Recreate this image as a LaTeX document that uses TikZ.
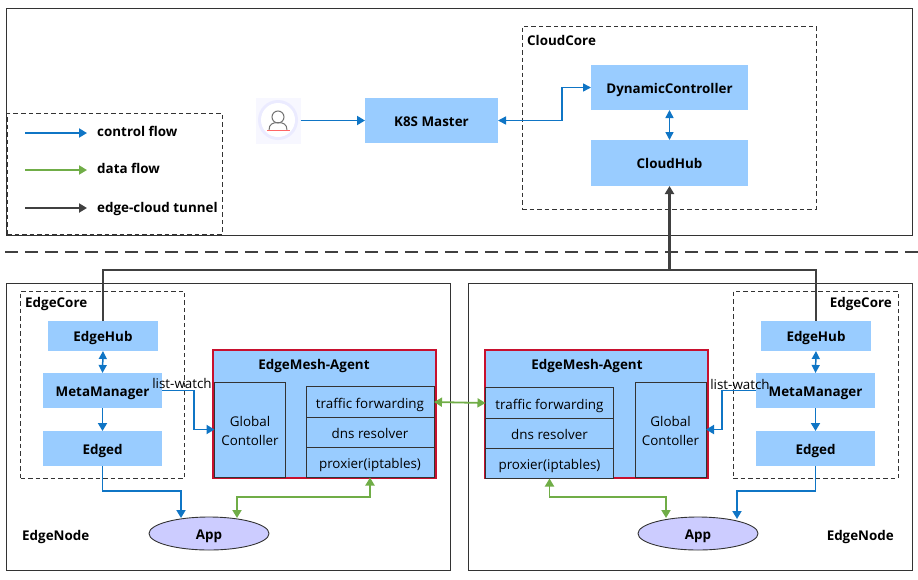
\documentclass[tikz,border=0pt]{standalone}
\usepackage{fontspec}
\setmainfont{Open Sans}
\usepackage{tikz}
\usetikzlibrary{arrows.meta,shapes.geometric}
\definecolor{meshblue}{HTML}{99CCFF}
\definecolor{ctrlblue}{HTML}{0F75C5}
\definecolor{datagreen}{HTML}{70AD47}
\definecolor{tunnelgray}{HTML}{404040}
\definecolor{applilac}{HTML}{CCCCFF}
\definecolor{agentred}{HTML}{C8102E}
\definecolor{framegray}{HTML}{333333}

\begin{document}
\begin{tikzpicture}[
  x=1pt, y=-1pt,
  frame/.style={draw=framegray, line width=0.9pt, inner sep=0pt, outer sep=0pt},
  dashbox/.style={draw=framegray, line width=0.8pt, dash pattern=on 4.5pt off 3pt, inner sep=0pt, outer sep=0pt},
  box/.style={fill=meshblue, inner sep=0pt, outer sep=0pt, align=center, text height=14.5pt, text depth=3pt, font=\fontsize{13.4}{15}\selectfont\bfseries},
  part/.style={draw=framegray, fill=meshblue, line width=0.9pt, inner sep=0pt, outer sep=0pt, align=center, font=\fontsize{13.4}{19}\selectfont},
  partline/.style={part, text height=15pt, text depth=3pt},
  agent/.style={draw=agentred, fill=meshblue, line width=2pt, inner sep=0pt, outer sep=0pt},
  app/.style={ellipse, draw=framegray, fill=applilac, line width=0.9pt, inner sep=0pt, outer sep=0pt, minimum width=120pt, minimum height=33pt, text height=14.5pt, text depth=3pt, font=\fontsize{13.4}{15}\selectfont\bfseries},
  lbl/.style={inner sep=0pt, text height=12.5pt, text depth=3pt, font=\fontsize{13.4}{15}\selectfont\bfseries},
  plain/.style={inner sep=0pt, font=\fontsize{13.4}{15}\selectfont},
  ctrl/.style={-{Triangle[length=8pt,width=9pt]}, line width=1.8pt, draw=ctrlblue, color=ctrlblue},
  ctrlboth/.style={{Triangle[length=8pt,width=8pt]}-{Triangle[length=8pt,width=8pt]}, line width=1.5pt, draw=ctrlblue, color=ctrlblue},
  data/.style={-{Triangle[length=8pt,width=9pt]}, line width=1.8pt, draw=datagreen, color=datagreen},
  databoth/.style={{Triangle[length=8pt,width=9pt]}-{Triangle[length=8pt,width=9pt]}, line width=1.8pt, draw=datagreen, color=datagreen},
  tunnel/.style={-{Triangle[length=8pt,width=9pt]}, line width=2.2pt, draw=tunnelgray, color=tunnelgray},
  tunnelline/.style={line width=2.2pt, draw=tunnelgray}
]
\useasboundingbox (0,0) rectangle (918,579);

% frames
\node[frame, minimum width=906pt, minimum height=227pt] (cloudframe) at (459,121.5) {};
\node[frame, minimum width=444pt, minimum height=287pt] (nodeleft) at (228,426.5) {};
\node[frame, minimum width=444pt, minimum height=287pt] (noderight) at (690,426.5) {};
\coordinate (splitl) at (5,252);
\coordinate (splitr) at (918,252);
\draw[draw=tunnelgray, line width=2pt, dash pattern=on 13pt off 7pt] (splitl) -- (splitr);

% legend
\node[dashbox, minimum width=215pt, minimum height=121pt] (legend) at (114.5,173.5) {};
\coordinate (ctrla) at (25,133);
\coordinate (ctrlb) at (87,133);
\coordinate (dataa) at (25,170);
\coordinate (datab) at (87,170);
\coordinate (tunna) at (25,208);
\coordinate (tunnb) at (87,208);
\draw[ctrl] (ctrla) -- (ctrlb);
\draw[data] (dataa) -- (datab);
\draw[tunnel] (tunna) -- (tunnb);
\node[lbl, anchor=west] (ctrltext) at (97,132) {control flow};
\node[lbl, anchor=west] (datatext) at (97,169) {data flow};
\node[lbl, anchor=west] (tunntext) at (97,208) {edge-cloud tunnel};

% user icon
\node[fill=blue!3, inner sep=0pt, outer sep=0pt, minimum width=45pt, minimum height=46pt] (user) at (278,120.5) {};
\fill[blue!8] (278,120) circle (20);
\fill[white] (278,120) circle (17);
\draw[gray!90!black, line width=1pt] (278,117) circle (6);
\draw[gray!90!black, line width=1pt] (269,130) .. controls (269,124) and (273,122.5) .. (278,122.5) .. controls (283,122.5) and (287,124) .. (287,130);
\draw[red!60!white, line width=1pt] (267,130.5) -- (290,130.5);

% cloud side
\node[box, minimum width=133pt, minimum height=45pt] (master) at (431.5,120.5) {K8S Master};
\node[dashbox, minimum width=294pt, minimum height=183pt] (cloudcore) at (669,117.5) {};
\node[lbl, anchor=west] (cloudcoretext) at (527,41) {CloudCore};
\node[box, minimum width=157pt, minimum height=45pt] (dynamic) at (669.5,87.5) {DynamicController};
\node[box, minimum width=157pt, minimum height=46pt] (cloudhub) at (669.5,163) {CloudHub};
\draw[ctrl] (user.east) -- (master.west);
\draw[ctrlboth] (master.east) -- (562,120.5) |- (dynamic.west);
\draw[ctrlboth] (dynamic.south) -- (cloudhub.north);

% left edge node
\node[dashbox, minimum width=164pt, minimum height=187pt] (corel) at (102.5,384.5) {};
\node[lbl, anchor=west] (coreltext) at (25,303) {EdgeCore};
\node[box, minimum width=110pt, minimum height=30pt] (hubl) at (103,336) {EdgeHub};
\node[box, minimum width=119pt, minimum height=35pt] (metal) at (102.5,390.5) {MetaManager};
\node[box, minimum width=119pt, minimum height=35pt] (edgedl) at (102.5,448.5) {Edged};
\node[lbl, anchor=west] (nodeltext) at (22,536) {EdgeNode};
\node[agent, minimum width=223pt, minimum height=128pt] (agentl) at (324.5,414) {};
\node[lbl] (agentltext) at (314,365) {EdgeMesh-Agent};
\node[part, minimum width=71pt, minimum height=95pt, text height=32pt] (globall) at (250,429.5) {Global\\Contoller};
\node[partline, minimum width=128pt, minimum height=31pt] (trafl) at (370,402) {traffic forwarding};
\node[partline, minimum width=128pt, minimum height=30pt] (dnsl) at (370,432.5) {dns resolver};
\node[partline, minimum width=128pt, minimum height=30pt] (proxl) at (370,462.5) {proxier(iptables)};
\node[app] (appl) at (209,533.5) {App};
\coordinate (appltop) at (181,518);
\coordinate (applgreen) at (237,518);

% right edge node
\node[dashbox, minimum width=165pt, minimum height=187pt] (corer) at (815.5,384.5) {};
\node[lbl, anchor=east] (corertext) at (892,303) {EdgeCore};
\node[box, minimum width=110pt, minimum height=30pt] (hubr) at (816,336) {EdgeHub};
\node[box, minimum width=119pt, minimum height=35pt] (metar) at (815.5,390.5) {MetaManager};
\node[box, minimum width=119pt, minimum height=35pt] (edgedr) at (815.5,448.5) {Edged};
\node[lbl, anchor=east] (nodertext) at (894,536) {EdgeNode};
\node[agent, minimum width=223pt, minimum height=128pt] (agentr) at (596.5,414) {};
\node[lbl] (agentrtext) at (587,365) {EdgeMesh-Agent};
\node[part, minimum width=71pt, minimum height=95pt, text height=32pt] (globalr) at (670.5,429.5) {Global\\Contoller};
\node[partline, minimum width=128pt, minimum height=31pt] (trafr) at (549.5,403) {traffic forwarding};
\node[partline, minimum width=128pt, minimum height=30pt] (dnsr) at (549.5,433.5) {dns resolver};
\node[partline, minimum width=128pt, minimum height=30pt] (proxr) at (549.5,463.5) {proxier(iptables)};
\node[app] (appr) at (698,533.5) {App};
\coordinate (apprtop) at (737,519);
\coordinate (apprgreen) at (666,518);

% connectors inside the nodes
\draw[ctrlboth] (hubl.south) -- (metal.north);
\draw[ctrl] (metal.south) -- (edgedl.north);
\draw[ctrlboth] (hubr.south) -- (metar.north);
\draw[ctrl] (metar.south) -- (edgedr.north);
\draw[ctrl] (metal.east) -- (194,390.5) |- (globall.west);
\draw[ctrl] (metar.west) -- (722,390.5) |- (globalr.east);
\draw[ctrl] (edgedl.south) -- (102.5,491) -| (appltop);
\draw[ctrl] (edgedr.south) -- (815.5,491) -| (apprtop);
\draw[databoth] (applgreen) |- (370,497) -- (proxl.south);
\draw[databoth] (proxr.south) -- (549.5,497) -| (apprgreen);
\draw[databoth] (trafl.east) -- (trafr.west);

% tunnel
\draw[tunnelline] (hubl.north) -- (103,270) -| (hubr.north);
\coordinate (tunnelfork) at (669.5,270);
\draw[tunnel] (tunnelfork) -- (cloudhub.south);

\node[plain] (watchl) at (182,383) {list-watch};
\node[plain] (watchr) at (740,384) {list-watch};
\end{tikzpicture}
\end{document}
